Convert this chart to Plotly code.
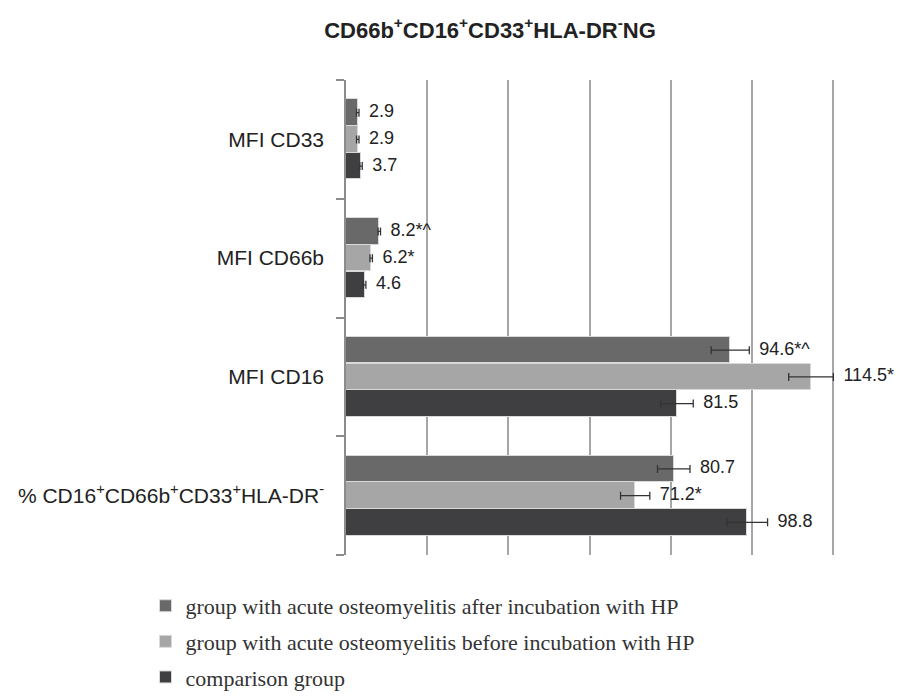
import plotly.graph_objects as go

categories = ["MFI CD33", "MFI CD66b", "MFI CD16",
              "% CD16<sup>+</sup>CD66b<sup>+</sup>CD33<sup>+</sup>HLA-DR<sup>-</sup>"]
series_names = ["group with acute osteomyelitis after incubation with HP",
                "group with acute osteomyelitis before incubation with HP",
                "comparison group"]
after_vals = [2.9, 8.2, 94.6, 80.7]
before_vals = [2.9, 6.2, 114.5, 71.2]
comparison_vals = [3.7, 4.6, 81.5, 98.8]
after_err = [0.3, 0.3, 4.7, 4.0]
before_err = [0.3, 0.3, 5.5, 3.6]
comparison_err = [0.3, 0.3, 4.0, 5.0]
after_labels = ["2.9", "8.2*^", "94.6*^", "80.7"]
before_labels = ["2.9", "6.2*", "114.5*", "71.2*"]
comparison_labels = ["3.7", "4.6", "81.5", "98.8"]
x_ticks = [0, 20, 40, 60, 80, 100, 120]

colors = ["#696969", "#a6a6a6", "#3f3f41"]
values = [after_vals, before_vals, comparison_vals]
errors = [after_err, before_err, comparison_err]
labels = [after_labels, before_labels, comparison_labels]

FONT = "Liberation Sans, Arial, sans-serif"
step = 0.225
barw = 0.222

fig = go.Figure()
for j in range(3):
    ypos = [i + (j - 1) * step for i in range(len(categories))]
    fig.add_trace(go.Bar(
        x=values[j], y=ypos, orientation="h", width=barw,
        name=series_names[j], legendgroup=str(j),
        marker=dict(color=colors[j], line=dict(color="#d9d9d9", width=1)),
        error_x=dict(type="data", array=errors[j], color="#333333",
                     thickness=1.3, width=4),
    ))
for j in range(3):
    ypos = [i + (j - 1) * step for i in range(len(categories))]
    xs = [v + e for v, e in zip(values[j], errors[j])]
    fig.add_trace(go.Scatter(
        x=xs, y=ypos, mode="text", text=["&nbsp;&nbsp;" + t for t in labels[j]],
        textposition="middle right", cliponaxis=False, showlegend=False,
        textfont=dict(family=FONT, size=18, color="#222222"),
        hoverinfo="skip",
    ))

fig.update_layout(
    width=907, height=700,
    paper_bgcolor="white", plot_bgcolor="white",
    margin=dict(l=338, r=80, t=72, b=153, autoexpand=False),
    title=dict(text="<b>CD66b<sup>+</sup>CD16<sup>+</sup>CD33<sup>+</sup>HLA-DR<sup>-</sup>NG</b>",
               x=482 / 907, xanchor="center", xref="container",
               y=1 - 22 / 700, yanchor="middle", yref="container",
               font=dict(family=FONT, size=22, color="#222222")),
    showlegend=True,
    legend=dict(x=-0.41, xanchor="left", y=-0.063, yanchor="top",
                traceorder="grouped", tracegroupgap=4,
                font=dict(family="Liberation Serif, Times New Roman, serif",
                          size=22, color="#333333"),
                itemwidth=30, bgcolor="rgba(0,0,0,0)"),
    bargap=0, barmode="overlay",
)
fig.update_xaxes(range=[0, 120.4], tickvals=x_ticks, showticklabels=False,
                 showgrid=True, gridcolor="#a6a6a6", gridwidth=1.5,
                 zeroline=False, showline=False, ticks="", automargin=False)
fig.update_yaxes(range=[3.5, -0.5], tickvals=list(range(len(categories))),
                 ticktext=categories, ticks="", showgrid=False, zeroline=False,
                 showline=True, linecolor="#8c8c8c", linewidth=1.5,
                 ticklabelstandoff=16, automargin=False,
                 tickfont=dict(family=FONT, size=21, color="#222222"),
                 minor=dict(tickvals=[-0.5, 0.5, 1.5, 2.5, 3.5], ticks="outside",
                            ticklen=8, tickcolor="#8c8c8c", tickwidth=1.5,
                            showgrid=False))

fig.write_html("out.html")
